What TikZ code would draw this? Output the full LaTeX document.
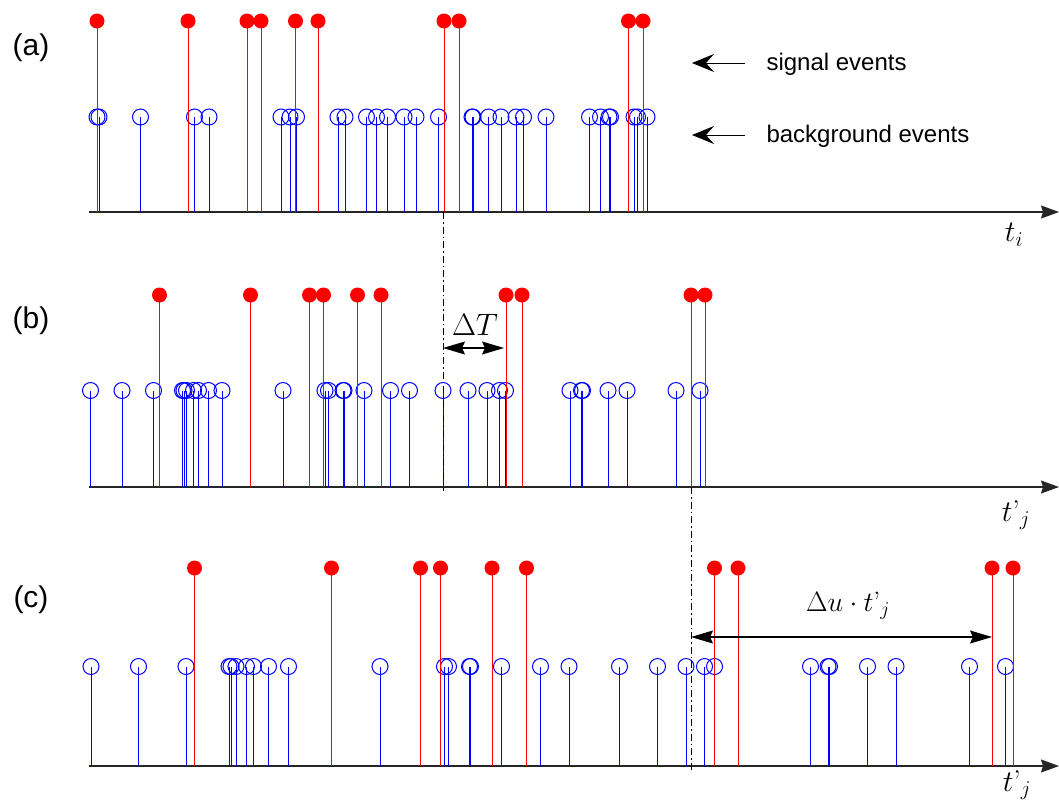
\RequirePackage{fix-cm}
\documentclass[tikz,border=0pt]{standalone}
\usepackage{fontspec}
\setsansfont{Liberation Sans}
\usetikzlibrary{arrows.meta}
\tikzset{
  axisline/.style={line width=1.3pt, draw=black!85, -{Stealth[length=18pt,width=13pt,inset=2pt]}},
  redstem/.style={red, line width=1pt},
  bluestem/.style={blue, line width=1pt},
  sigdot/.style={fill=red},
  bgcirc/.style={draw=blue, line width=1pt},
  dashdotline/.style={line width=0.9pt, dash pattern=on 7pt off 3pt on 1.5pt off 3pt},
  dimarrow/.style={line width=1.2pt, {Stealth[length=22pt,width=13pt,inset=3pt]}-{Stealth[length=22pt,width=13pt,inset=3pt]}},
  legarrow/.style={line width=1pt, -{Stealth[length=22pt,width=18pt,inset=8pt]}},
  panellabel/.style={font=\sffamily\fontsize{30}{34}\selectfont},
  legtext/.style={font=\sffamily\fontsize{24}{28}\selectfont, anchor=west},
  mathlabel/.style={font=\fontsize{30}{34}\selectfont},
}
\newcommand{\tprime}{t\mathord{\textnormal{’}}_j}
\newcommand{\eventpanel}[5]{%
  \draw[axisline] (89,#1) -- (1059,#1);
  \foreach \x in {#4} {
    \draw[bluestem] (\x,#1) -- (\x,#2);
    \draw[bgcirc] (\x,#2) circle[radius=8pt];
  }
  \foreach \x in {#5} {
    \draw[redstem] (\x,#1) -- (\x,#3);
    \fill[sigdot] (\x,#3) circle[radius=7.5pt];
  }
}
\begin{document}
\begin{tikzpicture}[x=1pt,y=-1pt]
\useasboundingbox (0,0) rectangle (1059,803);
% panel (a)
\eventpanel{212}{117}{21}
  {97,99,140.5,194.5,209,281,290,296.5,338,345,366.5,376.5,387.5,404,416,438.5,472,473,488.5,501,516,523.5,546,589.5,600.5,609,610.5,634,637.5,647}
  {97,188,247,261,295.5,318,444,459,628.5,643}
% panel (b)
\eventpanel{487}{390.5}{295}
  {90.5,122,153.5,182.5,184,186.5,193.5,198.5,208.5,222,283,325,328.5,343,344,364,390.5,409.5,443,468,487,499.5,505.5,570,581.5,582.5,608,627,676,700}
  {159.5,250.5,309.5,323.5,357.5,381,506,522,691,705}
% panel (c)
\eventpanel{766}{666.5}{568}
  {91,138.5,186,229,231,236,246.5,253.5,268.5,288.5,380,444.5,448.5,469.5,470.5,501.5,540.5,569,619.5,657.5,686,704.5,714.5,810.5,828,829.5,867.5,896,969.5,1005.5}
  {194.5,331.5,420.5,440.5,492,526.5,714.5,738,992,1013}

% panel labels
\node[panellabel] (la) at (31,48) {(a)};
\node[panellabel] (lb) at (31,321) {(b)};
\node[panellabel] (lc) at (31,600) {(c)};

% axis labels
\node[mathlabel] (ti) at (1014,235) {$t_i$};
\node[mathlabel] (tj1) at (1016,515) {$\tprime$};
\node[mathlabel] (tj2) at (1017,785) {$\tprime$};

% dash-dot lines
\coordinate (d1a) at (443,212);
\coordinate (d1b) at (443,491);
\coordinate (d2a) at (691,487);
\coordinate (d2b) at (691,771);
\draw[dashdotline] (d1a) -- (d1b);
\draw[dashdotline] (d2a) -- (d2b);

% Delta T
\coordinate (dta) at (443,348);
\coordinate (dtb) at (504,348);
\draw[dimarrow] (dta) -- (dtb);
\node[font=\fontsize{31}{34}\selectfont] (dtl) at (475,325) {$\Delta T$};

% Delta u t'_j
\coordinate (dua) at (691,637);
\coordinate (dub) at (992,637);
\draw[dimarrow] (dua) -- (dub);
\node[font=\fontsize{28}{32}\selectfont] (dul) at (848,606) {$\Delta u\cdot \tprime$};

% legend
\node[legtext] (sig) at (763,64) {signal events};
\node[legtext] (bkg) at (763,136) {background events};
\coordinate (sa) at (745,63);
\coordinate (sb) at (692,63);
\coordinate (ba) at (745,135);
\coordinate (bb) at (692,135);
\draw[legarrow] (sa) -- (sb);
\draw[legarrow] (ba) -- (bb);
\end{tikzpicture}
\end{document}
